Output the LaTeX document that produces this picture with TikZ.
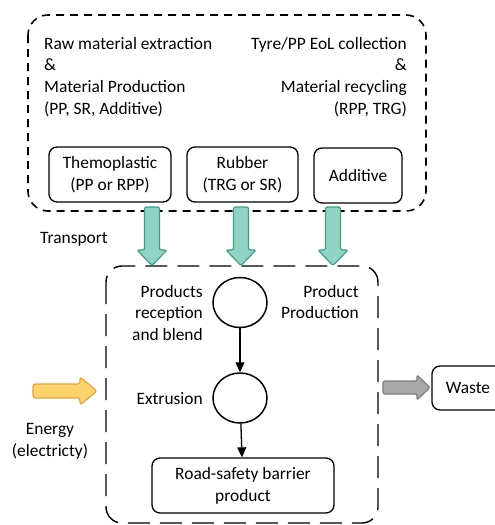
\documentclass[tikz,border=0pt]{standalone}
\usepackage{fontspec}
\setmainfont{Carlito}
\usetikzlibrary{arrows.meta,shapes.geometric}
\definecolor{gfill}{HTML}{92D4C3}
\definecolor{gline}{HTML}{3C9E88}
\definecolor{yfill}{HTML}{FAD36C}
\definecolor{yline}{HTML}{E6A23C}
\definecolor{kfill}{HTML}{A8A8A8}
\definecolor{kline}{HTML}{7E7E7E}
\tikzset{
  txt/.style={inner sep=0pt, font=\fontsize{17.4}{21.7}\selectfont},
  matbox/.style={draw, line width=1.3pt, rounded corners=8pt, align=center, inner sep=0pt,
    minimum height=55pt, font=\fontsize{17.4}{22}\selectfont},
  stage/.style={draw, line width=1.5pt, ellipse, minimum width=54pt, minimum height=50pt, inner sep=0pt},
  topframe/.style={line width=1.6pt, dash pattern=on 8pt off 6pt, rounded corners=20pt},
  botframe/.style={line width=1.4pt, dash pattern=on 22pt off 10pt, rounded corners=16pt},
  flow/.style={line width=1.3pt, -{Triangle[length=10pt,width=9pt]}},
  greenarrow/.style={fill=gfill, draw=gline, line width=1.2pt, rounded corners=2pt},
  yellowarrow/.style={fill=yfill, draw=yline, line width=1.2pt, rounded corners=2.5pt},
  greyarrow/.style={fill=kfill, draw=kline, line width=1.2pt, rounded corners=2pt}
}
\begin{document}
\begin{tikzpicture}[x=1pt,y=-1pt]
\useasboundingbox (0,0) rectangle (495,525);
\clip (0,0) rectangle (495,525);
% frames
\draw[topframe] (28,15) rectangle (426,211);
\draw[botframe] (106,266) rectangle (378,523);
% top texts
\node[txt, anchor=base west] (rl1) at (44,49) {Raw material extraction};
\node[txt, anchor=base west] (rl2) at (44,70.7) {\&};
\node[txt, anchor=base west] (rl3) at (44,92.4) {Material Production};
\node[txt, anchor=base west] (rl4) at (44,114) {(PP, SR, Additive)};
\node[txt, anchor=base east] (rr1) at (407,49) {Tyre/PP EoL collection};
\node[txt, anchor=base east] (rr2) at (407,70.7) {\&};
\node[txt, anchor=base east] (rr3) at (407,92.4) {Material recycling};
\node[txt, anchor=base east] (rr4) at (407,114) {(RPP, TRG)};
% material boxes
\node[matbox, minimum width=122pt] (thermo) at (110,174.5) {Themoplastic\\(PP or RPP)};
\node[matbox, minimum width=111pt] (rubber) at (242.5,174.5) {Rubber\\(TRG or SR)};
\node[matbox, minimum width=88pt] (additive) at (358,175.5) {Additive};
% transport arrows
\foreach \cx/\nm in {152/ga, 241/gb, 333/gc}{
  \draw[greenarrow] (\cx-7.5,207) -- (\cx-7.5,250) -- (\cx-15,250) -- (\cx,265.5)
    -- (\cx+15,250) -- (\cx+7.5,250) -- (\cx+7.5,207) -- cycle;
}
\node[txt, anchor=base west] (transport) at (40,243) {Transport};
% production
\node[stage] (c1) at (240,302.5) {};
\node[stage] (c2) at (240,398) {};
\node[matbox, minimum width=182pt, minimum height=55pt] (barrier) at (243,485.5) {Road-safety barrier\\product};
\draw[flow] (c1) -- (c2);
\draw[flow] (c2) -- (barrier);
\node[txt, anchor=base east] (p1) at (203,297) {Products};
\node[txt, anchor=base east] (p2) at (203,318.7) {reception};
\node[txt, anchor=base east] (p3) at (203,340.4) {and blend};
\node[txt, anchor=base east] (pp1) at (359,297) {Product};
\node[txt, anchor=base east] (pp2) at (359,318.7) {Production};
\node[txt, anchor=base east] (ext) at (203,404) {Extrusion};
% energy
\draw[yellowarrow] (33,384) -- (80,384) -- (80,377) -- (97,391) -- (80,405) -- (80,398) -- (33,398) -- cycle;
\node[txt, anchor=base] (en1) at (50,434) {Energy};
\node[txt, anchor=base] (en2) at (50,456) {(electricty)};
% waste
\draw[greyarrow] (383,381) -- (417,381) -- (417,375) -- (430,387.5) -- (417,400) -- (417,394) -- (383,394) -- cycle;
\node[matbox, minimum width=72pt, minimum height=44pt] (waste) at (468,388) {Waste};
\end{tikzpicture}
\end{document}
